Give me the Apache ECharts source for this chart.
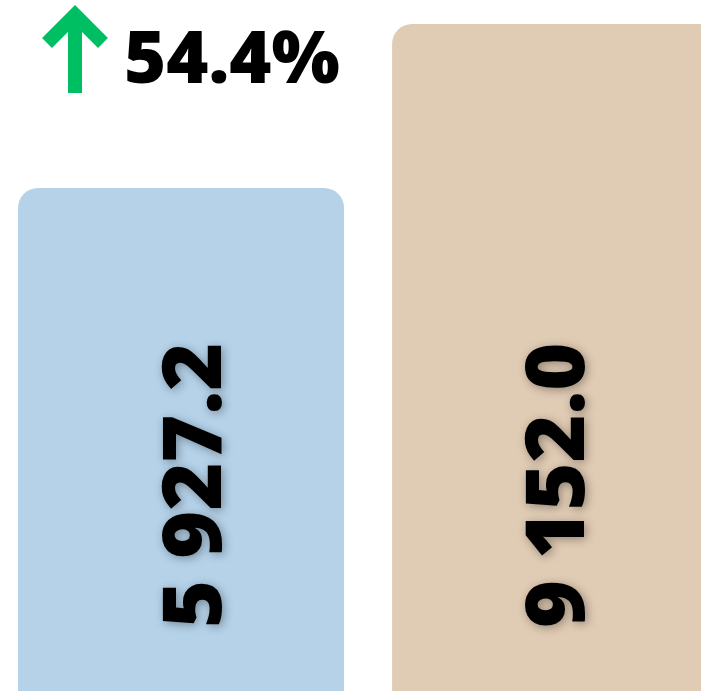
<!DOCTYPE html>
<html><head><meta charset="utf-8">
<script src="https://cdn.jsdelivr.net/npm/echarts@6/dist/echarts.min.js"></script>
<style>html,body{margin:0;padding:0;background:#fff}#c{width:701px;height:691px}</style>
</head><body><div id="c"></div>
<script>
const categories = ['Previous', 'Current'];
const values = [5927.2, 9152.0];
const barColors = ['#b5d2e9', '#e0cbb4'];

const change = ((values[1] / values[0] - 1) * 100).toFixed(1) + '%';
function fmt(v) {
  const parts = v.toFixed(1).split('.');
  return parts[0].replace(/\B(?=(\d{3})+(?!\d))/g, ' ') + '.' + parts[1];
}
const labelShift = [[0, 17], [0, 6]];
const FONT = '"Open Sans", "Liberation Sans", sans-serif';
const chart = echarts.init(document.getElementById('c'));
chart.setOption({
  animation: false,
  grid: { left: 0, right: 0, top: 24, bottom: 0, containLabel: false },
  xAxis: { type: 'value', min: -0.484, max: 1.390, show: false },
  yAxis: { type: 'value', min: -3964, max: 9152, startValue: -3964, show: false },
  series: [{
    type: 'bar',
    barWidth: 326,
    data: values.map((v, i) => ({
      name: categories[i], value: [i, v],
      itemStyle: { color: barColors[i] },
      label: { offset: labelShift[i] }
    })),
    itemStyle: { borderRadius: [20, 20, 0, 0] },
    label: {
      show: true,
      position: 'insideBottom',
      distance: 63,
      rotate: 90,
      align: 'left',
      verticalAlign: 'middle',
      formatter: p => fmt(p.value[1]),
      fontFamily: FONT,
      fontWeight: 800,
      fontSize: 82,
      color: '#000',
      textShadowColor: 'rgba(0,0,0,0.35)',
      textShadowBlur: 10,
      textShadowOffsetX: 2,
      textShadowOffsetY: 2
    }
  }],
  graphic: [
    { type: 'polyline', shape: { points: [[75, 93], [75, 16]] },
      style: { stroke: '#00bf63', lineWidth: 14, fill: null } },
    { type: 'polyline', shape: { points: [[47, 43], [75, 15], [103, 43]] },
      style: { stroke: '#00bf63', lineWidth: 14, fill: null, lineJoin: 'miter' } },
    { type: 'text', left: 124, top: 26,
      style: { text: change, font: '800 72px ' + FONT, fill: '#000' } }
  ]
});
</script></body></html>
